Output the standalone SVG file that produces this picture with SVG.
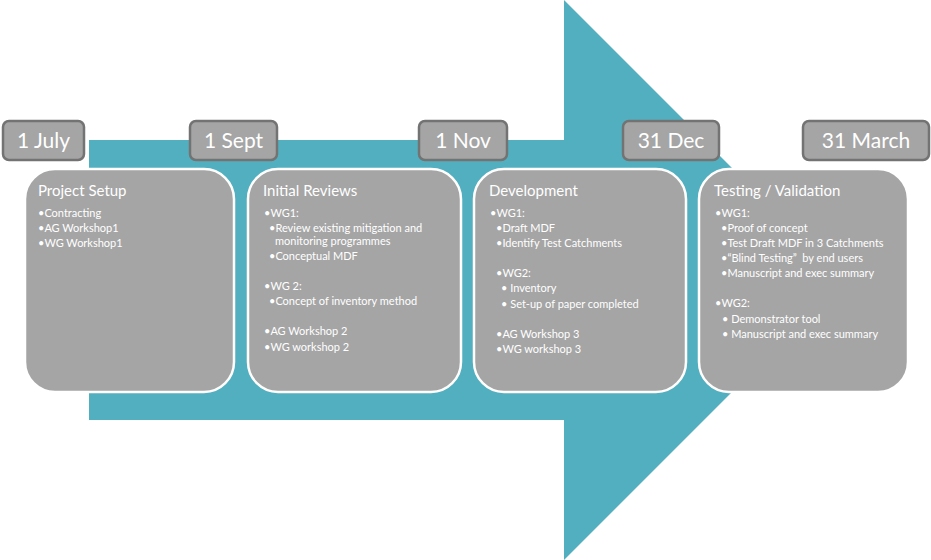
<svg xmlns="http://www.w3.org/2000/svg" width="931" height="560" viewBox="0 0 931 560">
<style>
.card{fill:#a5a5a5;stroke:#ffffff;stroke-width:2.5}
.date{fill:#a5a5a5;stroke:#737373;stroke-width:2.5}
.dt{font-family:Lato,"Liberation Sans",sans-serif;font-size:21px;fill:#ffffff;text-anchor:middle}
.ttl{font-family:Lato,"Liberation Sans",sans-serif;font-size:15px;fill:#ffffff}
.b{font-family:Lato,"Liberation Sans",sans-serif;font-size:11px;fill:#ffffff}
</style>
<rect width="931" height="560" fill="#ffffff"/>
<g id="timeline-arrow">
<polygon points="89,140 564,140 564,0 844,280 564,560 564,420 89,420" fill="#52afc0"/>
</g>
<g id="connectors"></g>
<g id="card-project-setup">
<rect class="card" x="25" y="169" width="209" height="223" rx="30"/>
<text class="ttl" x="38" y="196">Project Setup</text>
<text class="b" x="38" y="217">•Contracting</text>
<text class="b" x="38" y="232">•AG Workshop1</text>
<text class="b" x="38" y="247">•WG Workshop1</text>
</g>
<g id="card-initial-reviews">
<rect class="card" x="248" y="169" width="213" height="223" rx="30"/>
<text class="ttl" x="263" y="196">Initial Reviews</text>
<text class="b" x="264" y="217">•WG1:</text>
<text class="b" x="269" y="232">•Review existing mitigation and</text>
<text class="b" x="275" y="245">monitoring programmes</text>
<text class="b" x="269" y="260">•Conceptual MDF</text>
<text class="b" x="264" y="290">•WG 2:</text>
<text class="b" x="269" y="305">•Concept of inventory method</text>
<text class="b" x="264" y="335">•AG Workshop 2</text>
<text class="b" x="264" y="351">•WG workshop 2</text>
</g>
<g id="card-development">
<rect class="card" x="474" y="169" width="212" height="223" rx="30"/>
<text class="ttl" x="489" y="196">Development</text>
<text class="b" x="490" y="217">•WG1:</text>
<text class="b" x="496" y="232">•Draft MDF</text>
<text class="b" x="496" y="247">•Identify Test Catchments</text>
<text class="b" x="496" y="277">•WG2:</text>
<text class="b" x="501" y="292" xml:space="preserve">• Inventory</text>
<text class="b" x="501" y="308" xml:space="preserve">• Set-up of paper completed</text>
<text class="b" x="496" y="338">•AG Workshop 3</text>
<text class="b" x="496" y="353">•WG workshop 3</text>
</g>
<g id="card-testing-validation">
<rect class="card" x="699" y="169" width="209" height="223" rx="30"/>
<text class="ttl" x="714" y="196">Testing / Validation</text>
<text class="b" x="715" y="217">•WG1:</text>
<text class="b" x="721" y="232">•Proof of concept</text>
<text class="b" x="721" y="247">•Test Draft MDF in 3 Catchments</text>
<text class="b" x="721" y="262" xml:space="preserve">•“Blind Testing”  by end users</text>
<text class="b" x="721" y="277">•Manuscript and exec summary</text>
<text class="b" x="715" y="307">•WG2:</text>
<text class="b" x="722" y="323" xml:space="preserve">• Demonstrator tool</text>
<text class="b" x="722" y="338" xml:space="preserve">• Manuscript and exec summary</text>
</g>
<g id="date-1-july">
<rect class="date" x="3" y="121" width="81" height="39" rx="6"/>
<text class="dt" x="43.5" y="148">1 July</text>
</g>
<g id="date-1-sept">
<rect class="date" x="190" y="121" width="87" height="39" rx="6"/>
<text class="dt" x="233.5" y="148">1 Sept</text>
</g>
<g id="date-1-nov">
<rect class="date" x="419" y="121" width="88" height="39" rx="6"/>
<text class="dt" x="463" y="148">1 Nov</text>
</g>
<g id="date-31-dec">
<rect class="date" x="623" y="121" width="96" height="39" rx="6"/>
<text class="dt" x="671" y="148">31 Dec</text>
</g>
<g id="date-31-march">
<rect class="date" x="803" y="121" width="126" height="39" rx="6"/>
<text class="dt" x="866" y="148">31 March</text>
</g>
</svg>
